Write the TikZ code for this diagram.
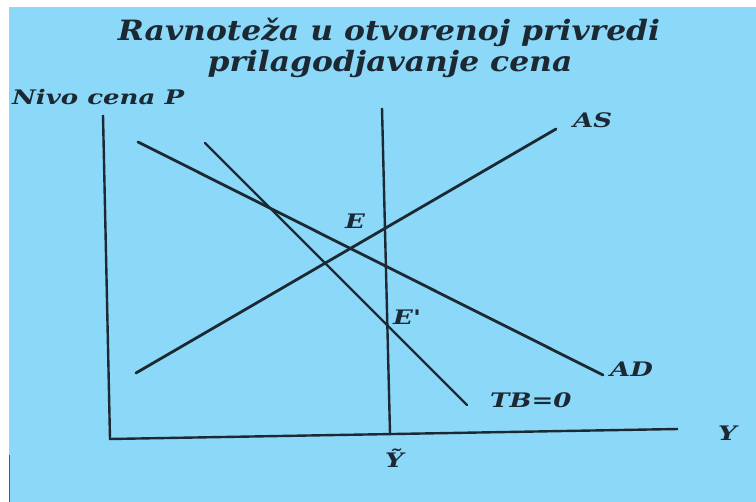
\documentclass[tikz,border=0pt]{standalone}
\usepackage{fontspec}
\setmainfont{DejaVu Serif}
\newfontfamily\headfont{DejaVu Serif}[FakeStretch=1.12]
\newfontfamily\lblfont{DejaVu Serif}[FakeStretch=1.3]
\usetikzlibrary{positioning}

\definecolor{skyblue}{RGB}{139,216,249}
\definecolor{ink}{RGB}{28,40,50}

\tikzset{
  curve/.style={ink, line width=2.8pt, line cap=round},
  axis/.style={ink, line width=2.4pt},
  lbl/.style={ink, inner sep=0pt, anchor=base west, font=\lblfont\bfseries\itshape\fontsize{20}{22}\selectfont},
  heading/.style={ink, inner sep=0pt, anchor=base, font=\headfont\bfseries\itshape\fontsize{28}{30}\selectfont}
}

\begin{document}
\begin{tikzpicture}[x=1pt, y=-1pt]
  \useasboundingbox (0,0) rectangle (756,502);
  \fill[white] (0,0) rectangle (756,502);
  \fill[skyblue] (9,7) rectangle (756,502);
  \draw[gray!70!black, line width=0.8pt] (9.5,455) -- (9.5,502);

  % title
  \node[heading] (title1) at (389,41) {Ravnoteža u otvorenoj privredi};
  \node[heading] (title2) at (390,72) {prilagodjavanje cena};

  % axes
  \coordinate (ytop) at (103,115);
  \coordinate (origin) at (110,439);
  \coordinate (xend) at (678,429);
  \draw[axis] (ytop) -- (origin) -- (xend);
  \node[lbl] (plabel) at (12,105) {Nivo cena P};
  \node[lbl] (ylabel) at (718,441) {Y};

  % potential output
  \coordinate (ybar-top) at (382,108);
  \coordinate (ybar-bot) at (390,433);
  \draw[axis] (ybar-top) -- (ybar-bot);
  \node[lbl] (ybar) at (385,468) {Ỹ};

  % curves
  \coordinate (as-lo) at (136,373);
  \coordinate (as-hi) at (556,129);
  \coordinate (ad-hi) at (138,142);
  \coordinate (ad-lo) at (603,375);
  \coordinate (tb-hi) at (205,143);
  \coordinate (tb-lo) at (467,405);
  \draw[curve] (as-lo) -- (as-hi);
  \draw[curve] (ad-hi) -- (ad-lo);
  \draw[curve, line width=2.3pt] (tb-hi) -- (tb-lo);
  \node[lbl] (as) at (573,128) {AS};
  \node[lbl] (ad) at (610,377) {AD};
  \node[lbl] (tb) at (490,408) {TB=0};

  % equilibria
  \node[lbl] (e) at (345,229) {E};
  \node[lbl] (e2) at (393,325) {E'};
\end{tikzpicture}
\end{document}
